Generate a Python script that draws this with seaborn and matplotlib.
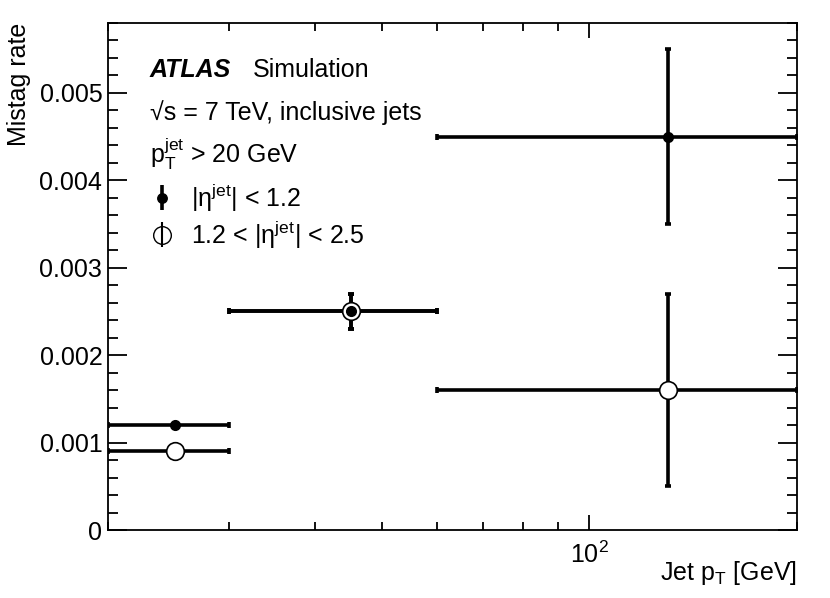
import matplotlib
matplotlib.use('Agg')
import matplotlib.pyplot as plt
import matplotlib.ticker as mticker
import numpy as np
import pandas as pd
import seaborn as sns

# binning in jet pT [GeV]
bin_lo = [20, 30, 60]
bin_hi = [30, 60, 200]
bin_center = [25, 45, 130]

# mistag rate, |eta| < 1.2
central_rate = [0.0012, 0.0025, 0.0045]
central_err = [0.0, 0.0002, 0.0010]

# mistag rate, 1.2 < |eta| < 2.5
forward_rate = [0.0009, 0.0025, 0.0016]
forward_err = [0.0, 0.0002, 0.0011]

sns.set_theme(style='ticks')
plt.rcParams['font.family'] = ['Liberation Sans', 'DejaVu Sans']
plt.rcParams['mathtext.fontset'] = 'custom'
plt.rcParams['mathtext.rm'] = 'Liberation Sans'
plt.rcParams['mathtext.it'] = 'Liberation Sans:italic'
plt.rcParams['mathtext.bf'] = 'Liberation Sans:bold'
plt.rcParams['text.color'] = 'black'
plt.rcParams['axes.labelcolor'] = 'black'

df = pd.DataFrame({
    'pt': bin_center * 2,
    'lo': bin_lo * 2,
    'hi': bin_hi * 2,
    'rate': central_rate + forward_rate,
    'err': central_err + forward_err,
    'region': ['central'] * 3 + ['forward'] * 3,
})

fig = plt.figure(figsize=(8.3, 5.98), dpi=100)
ax = fig.add_axes([0.130, 0.1137, 0.830, 0.848])
ax.set_xscale('log')

fs = 18
lw = 2.6

fwd = df[df.region == 'forward']
cen = df[df.region == 'central']

for sub, size, face in [(fwd, 12.7, 'white'), (cen, 6.8, 'black')]:
    ax.errorbar(sub.pt, sub.rate,
                xerr=[sub.pt - sub.lo, sub.hi - sub.pt], yerr=sub.err,
                fmt='none', ecolor='black', elinewidth=lw, capsize=2.2,
                capthick=lw, zorder=2)
    sns.scatterplot(data=sub, x='pt', y='rate', ax=ax, s=size ** 2,
                    color=face, edgecolor='black', linewidth=1.2, zorder=3,
                    legend=False)

ax.set_xlim(20, 200)
ax.set_ylim(0, 0.0058)

ax.yaxis.set_major_locator(mticker.MultipleLocator(0.001))
ax.yaxis.set_minor_locator(mticker.AutoMinorLocator(5))
ax.yaxis.set_major_formatter(mticker.FormatStrFormatter('%g'))
ax.xaxis.set_major_locator(mticker.LogLocator(base=10))
ax.xaxis.set_minor_locator(mticker.LogLocator(base=10, subs=np.arange(2, 10)))
ax.xaxis.set_major_formatter(
    mticker.FuncFormatter(lambda v, p: r'$\mathregular{10^{%d}}$' % round(np.log10(v))))
ax.xaxis.set_minor_formatter(mticker.NullFormatter())

ax.tick_params(which='both', direction='in', top=True, right=True,
               labelsize=fs, width=1.3, colors='black')
ax.tick_params(axis='y', which='major', length=14, pad=4)
ax.tick_params(axis='y', which='minor', length=7)
ax.tick_params(axis='x', which='major', length=11, pad=8)
ax.tick_params(axis='x', which='minor', length=6)
for s in ax.spines.values():
    s.set_linewidth(1.3)
    s.set_color('black')

ax.set_ylabel('Mistag rate', fontsize=fs, loc='top', labelpad=6)
ax.set_xlabel(r'Jet p$_\mathregular{T}$ [GeV]', fontsize=fs, loc='right',
              labelpad=-6)

tr = ax.transAxes
ax.text(0.061, 0.907, 'ATLAS', transform=tr, fontsize=fs,
        fontweight='bold', fontstyle='italic', va='center')
ax.text(0.211, 0.907, 'Simulation', transform=tr, fontsize=fs, va='center')
ax.text(0.061, 0.824, '\u221as = 7 TeV, inclusive jets', transform=tr,
        fontsize=fs, va='center')
ax.text(0.061, 0.742, r'$\mathregular{p_{T}^{jet}}$ > 20 GeV', transform=tr,
        fontsize=fs, va='center')

# legend handles: marker with vertical bar only
h1 = ax.errorbar([], [], yerr=[], fmt='o', color='black', ms=6.8,
                 elinewidth=lw, capsize=0)
h2 = ax.errorbar([], [], yerr=[], fmt='o', color='black', mfc='none',
                 ms=12.7, elinewidth=1.5, capsize=0)
ax.legend([h1, h2],
          [r'$\mathregular{|\eta^{jet}|}$ < 1.2',
           r'1.2 < $\mathregular{|\eta^{jet}|}$ < 2.5'],
          loc='upper left', bbox_to_anchor=(0.042, 0.712), frameon=False,
          fontsize=fs, handlelength=1.0, handletextpad=0.65,
          labelspacing=0.2, borderpad=0)

fig.savefig('out.png', dpi=100)
